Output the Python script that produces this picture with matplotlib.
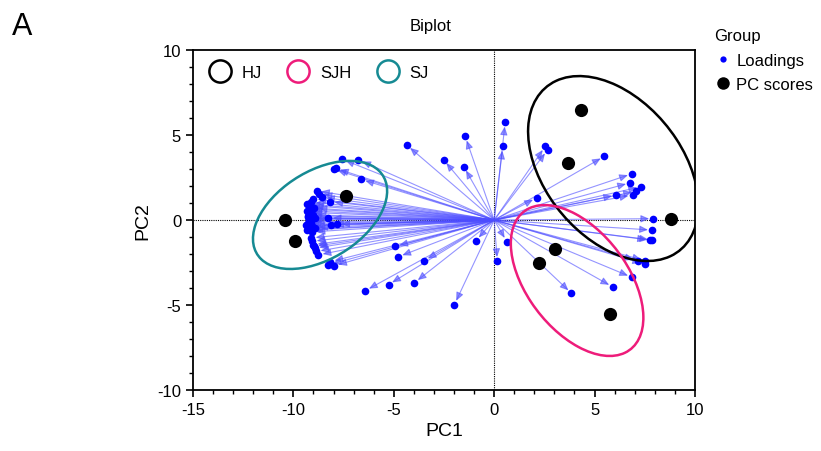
import numpy as np
import matplotlib

matplotlib.use("Agg")
import matplotlib.pyplot as plt
from matplotlib.patches import Ellipse
from matplotlib.lines import Line2D

plt.rcParams["font.family"] = ["Liberation Sans", "DejaVu Sans"]
plt.rcParams["axes.unicode_minus"] = False

# PCA loadings (variables)
load_x = [
    -1.44, -4.35, -2.52, -1.51, -7.59, -6.76, -6.62, -8.00, -7.88,
    -8.83, -8.70, -8.58, -8.17,
    -9.00, -9.10, -9.15, -9.20, -9.20, -9.25, -9.20, -9.10, -9.25, -9.05, -9.15, -9.00, -8.95, -9.05,
    -9.30, -9.32, -9.28, -9.35, -9.30, -8.90, -8.92,
    -8.25, -8.13, -7.83,
    -9.10, -9.05, -9.00, -8.92, -8.85, -8.75, -8.98,
    -8.25, -7.97, -8.15,
    -6.42, -5.26, -3.97, -1.98, -4.93, -4.77, -3.49, -0.91,
    0.16, 0.63,
    0.55, 0.43, 2.54, 2.66, 5.49, 2.12, 6.86, 6.77, 7.32, 7.07, 6.89, 6.08,
    7.93, 7.87, 7.77, 7.88, 7.14, 7.52, 7.52,
    6.86, 5.91, 3.85,
]
load_y = [
    4.92, 4.41, 3.55, 3.14, 3.59, 3.55, 2.39, 3.00, 3.04,
    1.72, 1.53, 1.34, 1.08,
    1.25, 1.05, 0.85, 0.65, 0.45, 0.25, 0.05, -0.10, -0.20, -0.35, -0.55, 0.30, 0.70, -0.70,
    0.95, 0.55, 0.15, -0.30, -0.60, 0.10, -0.45,
    0.12, -0.27, -0.24,
    -1.05, -1.25, -1.45, -1.65, -1.85, -2.05, -1.55,
    -2.63, -2.69, -2.45,
    -4.16, -3.80, -3.69, -4.98, -1.55, -2.16, -2.39, -1.22,
    -2.43, -1.27,
    5.75, 4.33, 4.33, 4.12, 3.75, 1.31, 2.72, 2.19, 1.96, 1.69, 1.47, 1.47,
    0.08, -0.59, -1.18, -1.18, -2.39, -2.39, -2.59,
    -3.37, -3.94, -4.31,
]

# PC scores per sample
score_x = [4.33, 3.69, 8.81, 3.04, 2.24, 5.78, -10.40, -9.91, -7.37]
score_y = [6.47, 3.35, 0.06, -1.70, -2.53, -5.53, 0.00, -1.24, 1.41]

# group ellipses: centre and covariance-like shape
groups = ["HJ", "SJH", "SJ"]
group_colors = ["black", "#ee1c7a", "#168a93"]
ell_cx = [5.93, 4.13, -8.67]
ell_cy = [3.03, -3.56, 0.30]
ell_sxx = [17.98, 10.89, 11.16]
ell_syy = [29.6, 19.7, 10.11]
ell_sxy = [-9.24, -7.2, 4.7]

fig = plt.figure(figsize=(8.21, 4.52), dpi=100)
ax = fig.add_axes([0.235, 0.135, 0.6115, 0.752])

ax.axhline(0, color="black", lw=0.8, ls=(0, (1, 1)), zorder=1)
ax.axvline(0, color="black", lw=0.8, ls=(0, (1, 1)), zorder=1)

for x, y in zip(load_x, load_y):
    ax.annotate(
        "", xy=(x, y), xytext=(0, 0),
        arrowprops=dict(arrowstyle="-|>,head_length=0.5,head_width=0.22",
                        color=(0.3, 0.3, 1.0, 0.6), lw=0.8,
                        shrinkA=0, shrinkB=3),
        zorder=2,
    )
ax.plot(load_x, load_y, "o", color="#0000ff", ms=5.5, mec="none", zorder=3)
ax.plot(score_x, score_y, "o", color="black", ms=9.5, mec="none", zorder=4)

for cx, cy, sxx, syy, sxy, col in zip(ell_cx, ell_cy, ell_sxx, ell_syy, ell_sxy, group_colors):
    cov = np.array([[sxx, sxy], [sxy, syy]])
    vals, vecs = np.linalg.eigh(cov)
    ang = np.degrees(np.arctan2(vecs[1, 1], vecs[0, 1]))
    e = Ellipse((cx, cy), 2 * np.sqrt(vals[1]), 2 * np.sqrt(vals[0]), angle=ang,
                fill=False, edgecolor=col, lw=1.8, zorder=5)
    ax.add_patch(e)

ax.set_xlim(-15, 10)
ax.set_ylim(-10, 10)
ax.set_xticks([-15, -10, -5, 0, 5, 10])
ax.set_yticks([-10, -5, 0, 5, 10])
ax.set_xticks(np.arange(-15, 11, 1), minor=True)
ax.set_yticks(np.arange(-10, 11, 1), minor=True)
ax.tick_params(which="major", direction="out", length=5, width=1.2, labelsize=12)
ax.tick_params(which="minor", direction="out", length=3, width=1.0)
for s in ax.spines.values():
    s.set_linewidth(1.3)

ax.set_xlabel("PC1", fontsize=14)
ax.set_ylabel("PC2", fontsize=14)
fig.text(431 / 821, 1 - 26 / 452, "Biplot", ha="center", va="center", fontsize=12)
fig.text(22 / 821, 1 - 27 / 452, "A", ha="center", va="center", fontsize=22)

grp_handles = [Line2D([], [], ls="none", marker="o", ms=16, mfc="none", mec=c, mew=1.8)
               for c in group_colors]
ax.legend(grp_handles, groups, loc="upper left", ncol=3, frameon=False, fontsize=12,
          handletextpad=0.3, columnspacing=1.2, bbox_to_anchor=(-0.01, 1.0))

key_handles = [
    Line2D([], [], ls="none", marker="o", ms=4.5, color="#0000ff", mec="none"),
    Line2D([], [], ls="none", marker="o", ms=9, color="black", mec="none"),
]
leg = fig.legend(key_handles, ["Loadings", "PC scores"], title="Group", loc="upper left",
                 bbox_to_anchor=(0.852, 0.968), frameon=False, fontsize=12,
                 title_fontsize=12, handletextpad=0.3, handlelength=1.0,
                 labelspacing=0.55)
leg._legend_box.align = "left"

fig.savefig("out.png", dpi=100)
